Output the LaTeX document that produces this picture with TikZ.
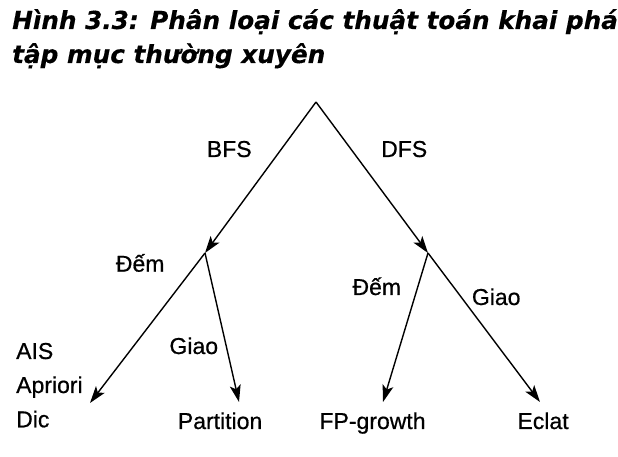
\documentclass[tikz,border=0pt]{standalone}
\usepackage{fontspec}
\setmainfont{Liberation Sans}
\newfontface\lblfont[FakeBold=0.6]{Liberation Sans}
\newfontface\ttlfont[FakeBold=0.3]{DejaVu Sans Bold Oblique}
\usetikzlibrary{arrows.meta}
\begin{document}
\begin{tikzpicture}[x=1pt,y=1pt,
  lbl/.style={font=\fontsize{23}{27}\selectfont\lblfont, inner sep=0pt, anchor=base west},
  ttl/.style={font=\fontsize{24.7}{30}\selectfont\ttlfont, inner sep=0pt, anchor=base west},
  edge/.style={line width=1.4pt, -{Stealth[length=17pt,width=11pt,inset=4pt]}}]
\useasboundingbox (0,0) rectangle (618,457);
% title
\node[ttl] (t1) at (12,428) {Hình 3.3: Phân loại các thuật toán khai phá};
\node[ttl] (t2) at (12,394) {tập mục thường xuyên};
% tree points
\coordinate (root) at (316,355);
\coordinate (bfs) at (205,204);
\coordinate (dfs) at (428,204);
\coordinate (e1) at (90,54);
\coordinate (e2) at (239,55);
\coordinate (e3) at (383,55);
\coordinate (e4) at (540,55);
% edges
\draw[edge] (root) -- (bfs);
\draw[edge] (root) -- (dfs);
\draw[edge] (bfs) -- (e1);
\draw[edge] (bfs) -- (e2);
\draw[edge] (dfs) -- (e3);
\draw[edge] (dfs) -- (e4);
% edge labels
\node[lbl] (lbfs) at (206.7,300) {BFS};
\node[lbl] (ldfs) at (381,300) {DFS};
\node[lbl] (ldem1) at (115.7,185.3) {Đếm};
\node[lbl] (lgiao1) at (169.3,103) {Giao};
\node[lbl] (ldem2) at (352.3,162) {Đếm};
\node[lbl] (lgiao2) at (471.7,152) {Giao};
% leaves
\node[lbl] (ais) at (16,98) {AIS};
\node[lbl] (apr) at (16,64) {Apriori};
\node[lbl] (dic) at (16,29.7) {Dic};
\node[lbl] (part) at (177.7,28) {Partition};
\node[lbl] (fpg) at (319.3,28) {FP-growth};
\node[lbl] (ecl) at (517.3,28) {Eclat};
\end{tikzpicture}
\end{document}
